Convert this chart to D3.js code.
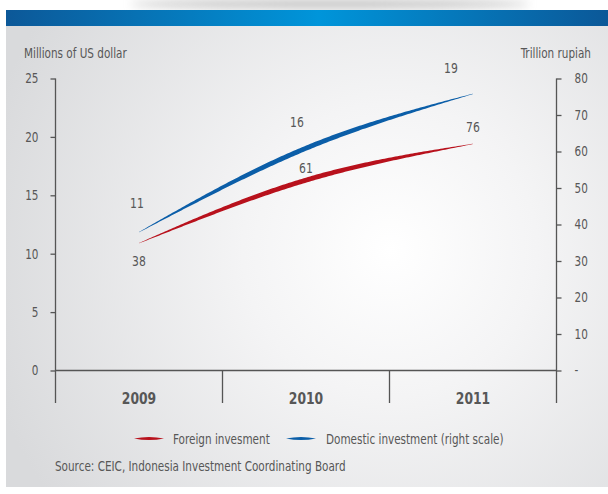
<!DOCTYPE html>
<html>
<head>
<meta charset="utf-8">
<script src="https://cdn.jsdelivr.net/npm/d3@7"></script>
<style>
  html, body { margin: 0; padding: 0; background: #ffffff; }
  svg { display: block; }
  text { font-family: "DejaVu Sans Condensed", "Liberation Sans Narrow", sans-serif; font-stretch: condensed; fill: #575757; }
</style>
</head>
<body>
<svg id="chart" width="608" height="494"></svg>
<script>
// Investment realisation, 2009-2011
const years = ["2009", "2010", "2011"];
const foreign = [10.9, 16.3, 19.4];      // millions of US dollar (left scale)
const domestic = [37.9, 60.9, 75.8];     // trillion rupiah (right scale)
const leftTicks = [0, 5, 10, 15, 20, 25];
const rightTicks = [0, 10, 20, 30, 40, 50, 60, 70, 80];
const seriesNames = ["Foreign invesment", "Domestic investment (right scale)"];
const leftTitle = "Millions of US dollar";
const rightTitle = "Trillion rupiah";
const sourceNote = "Source: CEIC, Indonesia Investment Coordinating Board";

const RED = "#b8111c", BLUE = "#0b5ea8", AXIS = "#555555";
const SQUEEZE = 0.86;   // horizontal compression giving a narrow typeface look

const svg = d3.select("#chart");
const defs = svg.append("defs");

// squeeze text horizontally around its own anchor x
function condense(sel, k = SQUEEZE) {
  sel.each(function () {
    const t = d3.select(this);
    const x0 = +t.attr("x") || 0;
    t.attr("transform", `translate(${x0 * (1 - k)},0) scale(${k},1)`);
  });
}

// panel background: soft light spot toward the middle, greyer toward the edges
const bg = defs.append("radialGradient").attr("id", "panelGrad")
  .attr("gradientUnits", "userSpaceOnUse")
  .attr("cx", 390).attr("cy", 250).attr("r", 420);
bg.append("stop").attr("offset", 0).attr("stop-color", "#ffffff");
bg.append("stop").attr("offset", 0.35).attr("stop-color", "#f4f4f5");
bg.append("stop").attr("offset", 1).attr("stop-color", "#d9dadc");

// header band
const band = defs.append("linearGradient").attr("id", "bandGrad")
  .attr("x1", 0).attr("x2", 1).attr("y1", 0).attr("y2", 0);
band.append("stop").attr("offset", 0).attr("stop-color", "#0c5898");
band.append("stop").attr("offset", 0.52).attr("stop-color", "#0095da");
band.append("stop").attr("offset", 1).attr("stop-color", "#0b5898");

const blur = defs.append("filter").attr("id", "soft").attr("x", "-50%").attr("y", "-200%")
  .attr("width", "200%").attr("height", "500%");
blur.append("feGaussianBlur").attr("stdDeviation", 5);

svg.append("ellipse").attr("cx", 330).attr("cy", 4).attr("rx", 200).attr("ry", 5)
  .attr("fill", "#8c8c8c").attr("opacity", 0.5).attr("filter", "url(#soft)");
svg.append("rect").attr("x", 6).attr("y", 26).attr("width", 602).attr("height", 461)
  .attr("fill", "url(#panelGrad)");
svg.append("rect").attr("x", 6).attr("y", 10).attr("width", 602).attr("height", 16)
  .attr("fill", "url(#bandGrad)");

// scales
const x = d3.scaleBand().domain(years).range([55.5, 556.5]);
const cx = d => x(d) + x.bandwidth() / 2;
const yL = d3.scaleLinear().domain([0, 25]).range([370.5, 78.5]);
const yR = d3.scaleLinear().domain([0, 80]).range([370.5, 78.5]);
const axisBottomY = 403;

// left axis
const gL = svg.append("g").attr("transform", "translate(55.5,0)")
  .call(d3.axisLeft(yL).tickValues(leftTicks).tickSize(5).tickPadding(12));
gL.select(".domain").remove();
gL.selectAll("line").attr("stroke", AXIS).attr("stroke-width", 1.3);
gL.selectAll("text").style("font-size", "13.5px").attr("fill", "#575757").call(condense);

// right axis
const gR = svg.append("g").attr("transform", "translate(556.5,0)")
  .call(d3.axisRight(yR).tickValues(rightTicks).tickSize(5).tickPadding(13)
    .tickFormat(v => v === 0 ? "-" : v));
gR.select(".domain").remove();
gR.selectAll("line").attr("stroke", AXIS).attr("stroke-width", 1.3);
gR.selectAll("text").style("font-size", "13.5px").attr("fill", "#575757").call(condense);

// axis frame: verticals, baseline and category separators
const frame = svg.append("g").attr("stroke", AXIS).attr("stroke-width", 1.3).attr("fill", "none");
frame.append("line").attr("x1", 55.5).attr("x2", 55.5).attr("y1", yL(25)).attr("y2", axisBottomY);
frame.append("line").attr("x1", 556.5).attr("x2", 556.5).attr("y1", yR(80)).attr("y2", axisBottomY);
frame.append("line").attr("x1", 55.5).attr("x2", 556.5).attr("y1", yL(0)).attr("y2", yL(0));
frame.selectAll(".sep").data(years.slice(1)).join("line")
  .attr("x1", d => x(d)).attr("x2", d => x(d))
  .attr("y1", yL(0)).attr("y2", axisBottomY);

// category labels
svg.append("g").selectAll("text").data(years).join("text")
  .attr("x", d => cx(d)).attr("y", 404)
  .attr("text-anchor", "middle")
  .style("font-size", "16px").style("font-weight", "bold")
  .attr("fill", "#4d4d4d")
  .text(d => d)
  .call(condense);

// axis titles
svg.append("text").attr("x", 24).attr("y", 58).style("font-size", "13.5px").text(leftTitle).call(condense);
svg.append("text").attr("x", 591).attr("y", 58).attr("text-anchor", "end").style("font-size", "13.5px").text(rightTitle).call(condense);

// tapered stroke: sample the curve and offset it by a width that swells mid-way
function taperedPath(points, maxW) {
  const d = d3.line().curve(d3.curveMonotoneX)(points);
  const tmp = svg.append("path").attr("d", d).attr("fill", "none");
  const node = tmp.node();
  const L = node.getTotalLength();
  const N = 160;
  const pts = d3.range(N + 1).map(i => node.getPointAtLength(L * i / N));
  tmp.remove();
  const left = [], right = [];
  pts.forEach((p, i) => {
    const a = pts[Math.max(0, i - 1)], b = pts[Math.min(N, i + 1)];
    const dx = b.x - a.x, dy = b.y - a.y, len = Math.hypot(dx, dy) || 1;
    const nx = -dy / len, ny = dx / len;
    const t = i / N;
    const w = (0.25 + maxW * Math.pow(Math.sin(Math.PI * t), 0.9)) / 2;
    left.push([p.x + nx * w, p.y + ny * w]);
    right.push([p.x - nx * w, p.y - ny * w]);
  });
  return d3.line()(left.concat(right.reverse())) + "Z";
}

const redPts = years.map((yr, i) => [cx(yr), yL(foreign[i])]);
const bluePts = years.map((yr, i) => [cx(yr), yR(domestic[i])]);
svg.append("path").attr("d", taperedPath(redPts, 4.6)).attr("fill", RED);
svg.append("path").attr("d", taperedPath(bluePts, 4.6)).attr("fill", BLUE);

// value labels, placed beside their points
const fmt = d3.format(".0f");
const foreignLabelShift = [[-2, -40], [-9, -58], [-22, -76]];
const domesticLabelShift = [[0, 29], [0, 20], [0, 33]];
const labels = svg.append("g").style("font-size", "14px").attr("text-anchor", "middle");
years.forEach((yr, i) => {
  labels.append("text")
    .attr("x", cx(yr) + foreignLabelShift[i][0])
    .attr("y", yL(foreign[i]) + foreignLabelShift[i][1])
    .attr("dy", "0.36em").text(fmt(foreign[i]));
  labels.append("text")
    .attr("x", cx(yr) + domesticLabelShift[i][0])
    .attr("y", yR(domestic[i]) + domesticLabelShift[i][1])
    .attr("dy", "0.36em").text(fmt(domestic[i]));
});
labels.selectAll("text").call(condense);

// legend with lens-shaped swatches
function lens(x0, y0, w, h) {
  return `M${x0},${y0} Q${x0 + w / 2},${y0 - h} ${x0 + w},${y0} Q${x0 + w / 2},${y0 + h} ${x0},${y0} Z`;
}
const legend = [
  { name: seriesNames[0], color: RED, sx: 134, tx: 173 },
  { name: seriesNames[1], color: BLUE, sx: 286, tx: 326 }
];
legend.forEach(l => {
  svg.append("path").attr("d", lens(l.sx, 438.5, 30, 3.2)).attr("fill", l.color);
  svg.append("text").attr("x", l.tx).attr("y", 444).style("font-size", "13.5px").text(l.name).call(condense);
});

svg.append("text").attr("x", 55).attr("y", 471).style("font-size", "13.5px").text(sourceNote).call(condense);
</script>
</body>
</html>
